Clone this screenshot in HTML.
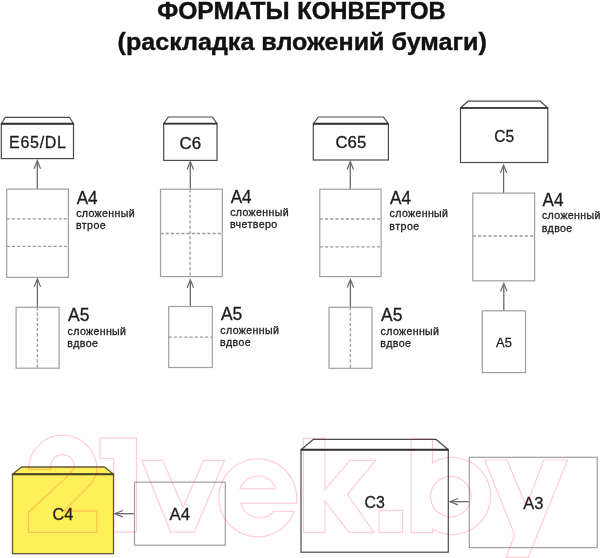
<!DOCTYPE html>
<html><head><meta charset="utf-8"><style>
html,body{margin:0;padding:0;background:#fff;}
#c{position:relative;width:600px;height:558px;overflow:hidden;background:#fff;}
svg{position:absolute;left:0;top:0;will-change:transform;}
text{font-family:"Liberation Sans",sans-serif;}
</style></head><body><div id="c">
<svg width="600" height="558" viewBox="0 0 600 558">
<text x="157.23" y="18.8" font-size="24" font-weight="bold" fill="#111" stroke="#111" stroke-width="0.4" textLength="132.45" lengthAdjust="spacingAndGlyphs">ФОРМАТЫ</text>
<text x="297.21" y="18.8" font-size="24" font-weight="bold" fill="#111" stroke="#111" stroke-width="0.4" textLength="148.58" lengthAdjust="spacingAndGlyphs">КОНВЕРТОВ</text>
<text x="117.52" y="49.7" font-size="24.5" font-weight="bold" fill="#111" stroke="#111" stroke-width="0.4" textLength="369.27" lengthAdjust="spacingAndGlyphs">(раскладка вложений бумаги)</text>
<polygon points="5.3,117.3 69.5,117.3 73.5,123.8 1.3,123.8" fill="#fff" stroke="#4a4a4a" stroke-width="1.2" stroke-linejoin="round"/>
<rect x="1.3" y="123.8" width="72.2" height="34.8" fill="#fff" stroke="#4a4a4a" stroke-width="1.2"/>
<line x1="1.3" y1="123.8" x2="73.5" y2="123.8" stroke="#333" stroke-width="1.9"/>
<text x="9.07" y="147.8" font-size="16" font-weight="normal" fill="#1c1c1c" stroke="#1c1c1c" stroke-width="0.3" textLength="56.90" lengthAdjust="spacing">E65/DL</text>
<line x1="37.3" y1="161.2" x2="37.3" y2="189.1" stroke="#6a6a6a" stroke-width="1.3"/>
<polyline points="34.099999999999994,168.7 37.3,160.7 40.5,168.7" fill="none" stroke="#6a6a6a" stroke-width="1.2"/>
<rect x="6.7" y="189.1" width="61.7" height="88.29999999999998" fill="none" stroke="#a0a0a0" stroke-width="1.2"/>
<line x1="6.7" y1="218.8" x2="68.5" y2="218.8" stroke="#9c9c9c" stroke-width="1.3" stroke-dasharray="3.2 2"/>
<line x1="6.7" y1="246.4" x2="68.5" y2="246.4" stroke="#9c9c9c" stroke-width="1.3" stroke-dasharray="3.2 2"/>
<line x1="37.4" y1="279.4" x2="37.4" y2="307.3" stroke="#6a6a6a" stroke-width="1.3"/>
<polyline points="34.199999999999996,286.9 37.4,278.9 40.6,286.9" fill="none" stroke="#6a6a6a" stroke-width="1.2"/>
<rect x="16.1" y="307.3" width="43.0" height="60.89999999999998" fill="none" stroke="#a0a0a0" stroke-width="1.2"/>
<line x1="37.4" y1="307.3" x2="37.4" y2="368.2" stroke="#9c9c9c" stroke-width="1.3" stroke-dasharray="3.2 2"/>
<text x="76.70" y="203.6" font-size="17.6" font-weight="normal" fill="#1c1c1c" stroke="#1c1c1c" stroke-width="0.3" textLength="20.92" lengthAdjust="spacingAndGlyphs">A4</text>
<text x="76.17" y="216.79999999999998" font-size="10.6" font-weight="normal" fill="#1c1c1c" stroke="#1c1c1c" stroke-width="0.3" textLength="58.45" lengthAdjust="spacing">сложенный</text>
<text x="75.90" y="229.39999999999998" font-size="10.6" font-weight="normal" fill="#1c1c1c" stroke="#1c1c1c" stroke-width="0.3" textLength="29.87" lengthAdjust="spacing">втрое</text>
<text x="68.10" y="321.4" font-size="17.6" font-weight="normal" fill="#1c1c1c" stroke="#1c1c1c" stroke-width="0.3" textLength="21.38" lengthAdjust="spacingAndGlyphs">A5</text>
<text x="67.57" y="334.6" font-size="10.6" font-weight="normal" fill="#1c1c1c" stroke="#1c1c1c" stroke-width="0.3" textLength="58.45" lengthAdjust="spacing">сложенный</text>
<text x="67.31" y="347.2" font-size="10.6" font-weight="normal" fill="#1c1c1c" stroke="#1c1c1c" stroke-width="0.3" textLength="30.50" lengthAdjust="spacing">вдвое</text>
<polygon points="168.29999999999998,117 212.4,117 217,123.6 163.7,123.6" fill="#fff" stroke="#4a4a4a" stroke-width="1.2" stroke-linejoin="round"/>
<rect x="163.7" y="123.6" width="53.30000000000001" height="36.80000000000001" fill="#fff" stroke="#4a4a4a" stroke-width="1.2"/>
<line x1="163.7" y1="123.6" x2="217" y2="123.6" stroke="#333" stroke-width="1.9"/>
<text x="179.51" y="148.5" font-size="16" font-weight="normal" fill="#1c1c1c" stroke="#1c1c1c" stroke-width="0.3" textLength="21.53" lengthAdjust="spacingAndGlyphs">C6</text>
<line x1="190.3" y1="162.0" x2="190.3" y2="189.2" stroke="#6a6a6a" stroke-width="1.3"/>
<polyline points="187.10000000000002,169.5 190.3,161.5 193.5,169.5" fill="none" stroke="#6a6a6a" stroke-width="1.2"/>
<rect x="160.5" y="189.2" width="61.80000000000001" height="87.40000000000003" fill="none" stroke="#a0a0a0" stroke-width="1.2"/>
<line x1="190.1" y1="189.2" x2="190.1" y2="276.6" stroke="#9c9c9c" stroke-width="1.3" stroke-dasharray="3.2 2"/>
<line x1="160.5" y1="233.5" x2="222.3" y2="233.5" stroke="#9c9c9c" stroke-width="1.3" stroke-dasharray="3.2 2"/>
<line x1="190.35" y1="280.3" x2="190.35" y2="306.5" stroke="#6a6a6a" stroke-width="1.3"/>
<polyline points="187.15,287.8 190.35,279.8 193.54999999999998,287.8" fill="none" stroke="#6a6a6a" stroke-width="1.2"/>
<rect x="168.7" y="306.5" width="43.60000000000002" height="61.0" fill="none" stroke="#a0a0a0" stroke-width="1.2"/>
<line x1="168.7" y1="337.2" x2="212.3" y2="337.2" stroke="#9c9c9c" stroke-width="1.3" stroke-dasharray="3.2 2"/>
<text x="230.70" y="202.5" font-size="17.6" font-weight="normal" fill="#1c1c1c" stroke="#1c1c1c" stroke-width="0.3" textLength="20.92" lengthAdjust="spacingAndGlyphs">A4</text>
<text x="230.17" y="215.7" font-size="10.6" font-weight="normal" fill="#1c1c1c" stroke="#1c1c1c" stroke-width="0.3" textLength="58.45" lengthAdjust="spacing">сложенный</text>
<text x="229.90" y="228.29999999999998" font-size="10.6" font-weight="normal" fill="#1c1c1c" stroke="#1c1c1c" stroke-width="0.3" textLength="47.34" lengthAdjust="spacing">вчетверо</text>
<text x="220.90" y="320.29999999999995" font-size="17.6" font-weight="normal" fill="#1c1c1c" stroke="#1c1c1c" stroke-width="0.3" textLength="21.38" lengthAdjust="spacingAndGlyphs">A5</text>
<text x="220.37" y="333.5" font-size="10.6" font-weight="normal" fill="#1c1c1c" stroke="#1c1c1c" stroke-width="0.3" textLength="58.45" lengthAdjust="spacing">сложенный</text>
<text x="220.11" y="346.09999999999997" font-size="10.6" font-weight="normal" fill="#1c1c1c" stroke="#1c1c1c" stroke-width="0.3" textLength="30.50" lengthAdjust="spacing">вдвое</text>
<polygon points="318.3,117 383.4,117 388.4,123.8 313.3,123.8" fill="#fff" stroke="#4a4a4a" stroke-width="1.2" stroke-linejoin="round"/>
<rect x="313.3" y="123.8" width="75.09999999999997" height="36.2" fill="#fff" stroke="#4a4a4a" stroke-width="1.2"/>
<line x1="313.3" y1="123.8" x2="388.4" y2="123.8" stroke="#333" stroke-width="1.9"/>
<text x="335.52" y="148.2" font-size="16" font-weight="normal" fill="#1c1c1c" stroke="#1c1c1c" stroke-width="0.3" textLength="30.72" lengthAdjust="spacingAndGlyphs">C65</text>
<line x1="350.3" y1="162.0" x2="350.3" y2="189.2" stroke="#6a6a6a" stroke-width="1.3"/>
<polyline points="347.1,169.5 350.3,161.5 353.5,169.5" fill="none" stroke="#6a6a6a" stroke-width="1.2"/>
<rect x="319.8" y="189.2" width="61.30000000000001" height="87.40000000000003" fill="none" stroke="#a0a0a0" stroke-width="1.2"/>
<line x1="319.8" y1="219" x2="381.1" y2="219" stroke="#9c9c9c" stroke-width="1.3" stroke-dasharray="3.2 2"/>
<line x1="319.8" y1="246.8" x2="381.1" y2="246.8" stroke="#9c9c9c" stroke-width="1.3" stroke-dasharray="3.2 2"/>
<line x1="350.4" y1="280.0" x2="350.4" y2="307.3" stroke="#6a6a6a" stroke-width="1.3"/>
<polyline points="347.2,287.5 350.4,279.5 353.59999999999997,287.5" fill="none" stroke="#6a6a6a" stroke-width="1.2"/>
<rect x="329" y="307.3" width="43" height="61.0" fill="none" stroke="#a0a0a0" stroke-width="1.2"/>
<line x1="350.4" y1="307.3" x2="350.4" y2="368.3" stroke="#9c9c9c" stroke-width="1.3" stroke-dasharray="3.2 2"/>
<text x="390.10" y="203.8" font-size="17.6" font-weight="normal" fill="#1c1c1c" stroke="#1c1c1c" stroke-width="0.3" textLength="20.92" lengthAdjust="spacingAndGlyphs">A4</text>
<text x="389.57" y="217.0" font-size="10.6" font-weight="normal" fill="#1c1c1c" stroke="#1c1c1c" stroke-width="0.3" textLength="58.45" lengthAdjust="spacing">сложенный</text>
<text x="389.30" y="229.6" font-size="10.6" font-weight="normal" fill="#1c1c1c" stroke="#1c1c1c" stroke-width="0.3" textLength="29.87" lengthAdjust="spacing">втрое</text>
<text x="381.10" y="321.4" font-size="17.6" font-weight="normal" fill="#1c1c1c" stroke="#1c1c1c" stroke-width="0.3" textLength="21.38" lengthAdjust="spacingAndGlyphs">A5</text>
<text x="380.57" y="334.6" font-size="10.6" font-weight="normal" fill="#1c1c1c" stroke="#1c1c1c" stroke-width="0.3" textLength="58.45" lengthAdjust="spacing">сложенный</text>
<text x="380.31" y="347.2" font-size="10.6" font-weight="normal" fill="#1c1c1c" stroke="#1c1c1c" stroke-width="0.3" textLength="30.50" lengthAdjust="spacing">вдвое</text>
<polygon points="468.0,101.2 540.3,101.2 547.8,108 460.5,108" fill="#fff" stroke="#4a4a4a" stroke-width="1.2" stroke-linejoin="round"/>
<rect x="460.5" y="108" width="87.29999999999995" height="54.5" fill="#fff" stroke="#4a4a4a" stroke-width="1.2"/>
<line x1="460.5" y1="108" x2="547.8" y2="108" stroke="#333" stroke-width="1.7"/>
<text x="494.29" y="141.9" font-size="16.5" font-weight="normal" fill="#1c1c1c" stroke="#1c1c1c" stroke-width="0.3" textLength="19.87" lengthAdjust="spacingAndGlyphs">C5</text>
<line x1="503.6" y1="165.6" x2="503.6" y2="193.1" stroke="#6a6a6a" stroke-width="1.3"/>
<polyline points="500.40000000000003,173.1 503.6,165.1 506.8,173.1" fill="none" stroke="#6a6a6a" stroke-width="1.2"/>
<rect x="472.8" y="193.1" width="61.80000000000001" height="87.70000000000002" fill="none" stroke="#a0a0a0" stroke-width="1.2"/>
<line x1="472.8" y1="236" x2="534.6" y2="236" stroke="#9c9c9c" stroke-width="1.3" stroke-dasharray="3.2 2"/>
<line x1="503.8" y1="283.9" x2="503.8" y2="310.8" stroke="#6a6a6a" stroke-width="1.3"/>
<polyline points="500.6,291.4 503.8,283.4 507.0,291.4" fill="none" stroke="#6a6a6a" stroke-width="1.2"/>
<rect x="482.3" y="310.8" width="43.19999999999999" height="61.80000000000001" fill="none" stroke="#a0a0a0" stroke-width="1.2"/>
<text x="496.10" y="346.9" font-size="12.5" font-weight="normal" fill="#1c1c1c" stroke="#1c1c1c" stroke-width="0.3" textLength="15.76" lengthAdjust="spacingAndGlyphs">A5</text>
<text x="542.50" y="206.1" font-size="17.6" font-weight="normal" fill="#1c1c1c" stroke="#1c1c1c" stroke-width="0.3" textLength="20.92" lengthAdjust="spacingAndGlyphs">A4</text>
<text x="541.97" y="219.29999999999998" font-size="10.6" font-weight="normal" fill="#1c1c1c" stroke="#1c1c1c" stroke-width="0.3" textLength="58.45" lengthAdjust="spacing">сложенный</text>
<text x="541.71" y="231.89999999999998" font-size="10.6" font-weight="normal" fill="#1c1c1c" stroke="#1c1c1c" stroke-width="0.3" textLength="30.50" lengthAdjust="spacing">вдвое</text>
<polygon points="21.5,467 104.5,467 113.5,474.3 12.5,474.3" fill="#fff05a" stroke="#5f5a38" stroke-width="1.3" stroke-linejoin="round"/>
<rect x="12.5" y="474.3" width="101.0" height="79.40000000000003" fill="#fff05a" stroke="#5f5a38" stroke-width="1.3"/>
<line x1="12.5" y1="474.3" x2="113.5" y2="474.3" stroke="#48442b" stroke-width="2.0"/>
<text x="52.48" y="520.3" font-size="17" font-weight="normal" fill="#1c1c1c" stroke="#1c1c1c" stroke-width="0.3" textLength="20.78" lengthAdjust="spacingAndGlyphs">C4</text>
<line x1="115.3" y1="513.7" x2="134.5" y2="513.7" stroke="#6a6a6a" stroke-width="1.3"/>
<polyline points="122.8,510.50000000000006 114.8,513.7 122.8,516.9000000000001" fill="none" stroke="#6a6a6a" stroke-width="1.2"/>
<rect x="134.5" y="482.1" width="90.80000000000001" height="63.10000000000002" fill="none" stroke="#a0a0a0" stroke-width="1.2"/>
<text x="169.50" y="520.4" font-size="17" font-weight="normal" fill="#1c1c1c" stroke="#1c1c1c" stroke-width="0.3" textLength="20.54" lengthAdjust="spacingAndGlyphs">A4</text>
<polygon points="313.5,439.3 435.8,439.3 448.3,449.7 301,449.7" fill="#fff" stroke="#4a4a4a" stroke-width="1.2" stroke-linejoin="round"/>
<rect x="301" y="449.7" width="147.3" height="102.50000000000006" fill="#fff" stroke="#4a4a4a" stroke-width="1.2"/>
<line x1="301" y1="449.7" x2="448.3" y2="449.7" stroke="#333" stroke-width="1.9"/>
<text x="364.50" y="507.9" font-size="17" font-weight="normal" fill="#1c1c1c" stroke="#1c1c1c" stroke-width="0.3" textLength="20.29" lengthAdjust="spacingAndGlyphs">C3</text>
<line x1="450.5" y1="501.7" x2="469.3" y2="501.7" stroke="#6a6a6a" stroke-width="1.3"/>
<polyline points="458,498.5 450,501.7 458,504.9" fill="none" stroke="#6a6a6a" stroke-width="1.2"/>
<rect x="469.3" y="457.3" width="127.90000000000003" height="90.30000000000001" fill="none" stroke="#a0a0a0" stroke-width="1.2"/>
<text x="523.20" y="508.7" font-size="17" font-weight="normal" fill="#1c1c1c" stroke="#1c1c1c" stroke-width="0.3" textLength="20.17" lengthAdjust="spacingAndGlyphs">A3</text>
<path d="M28.5 469.3 A34.2 34.2 0 0 1 96.9 469.3 C96.9 477, 92 483.5, 85.1 490.1 L63.8 511.2 L96.8 511.2 L96.8 532.4 L28.5 532.4 L28.5 512.3 L65 478.6 C70 473.5, 74.3 470, 74.3 466.5 A11.8 11.8 0 0 0 50.7 466.5 L50.7 469.3 Z" fill="none" stroke="rgba(255,0,55,0.2)" stroke-width="1.2" stroke-linejoin="miter"/>
<path d="M100.1 438.2 L136.5 438.2 L136.5 532.2 L113.7 532.2 L113.7 458.5 L100.1 458.5 Z" fill="none" stroke="rgba(255,0,55,0.2)" stroke-width="1.2" stroke-linejoin="miter"/>
<path d="M141.7 460.3 L162.7 460.3 L183.1 507.5 L203.5 460.3 L224.5 460.3 L194.2 532.2 L170.8 532.2 Z" fill="none" stroke="rgba(255,0,55,0.2)" stroke-width="1.2" stroke-linejoin="miter"/>
<path d="M296.4 503.2 L240.9 503.2 A19 19 0 0 0 273.6 511.5 L294.3 511.5 A39 39 0 1 1 296.4 503.2 Z" fill="none" stroke="rgba(255,0,55,0.2)" stroke-width="1.2" stroke-linejoin="miter"/>
<path d="M240 488.9 A19 19 0 0 1 276 488.9 Z" fill="none" stroke="rgba(255,0,55,0.2)" stroke-width="1.2" stroke-linejoin="miter"/>
<path d="M303.4 438.4 L325 438.4 L325 489.6 L350 460.4 L375.4 460.4 L347.4 494.4 L374 532.4 L349 532.4 L325 501 L325 532.4 L303.4 532.4 Z" fill="none" stroke="rgba(255,0,55,0.2)" stroke-width="1.2" stroke-linejoin="miter"/>
<path d="M379 510.4 L402.6 510.4 L402.6 532.4 L379 532.4 Z" fill="none" stroke="rgba(255,0,55,0.2)" stroke-width="1.2" stroke-linejoin="miter"/>
<path d="M411.2 438.9 L432.5 438.9 L432.5 462.9 A38.5 38.5 0 1 1 432.5 529.1 L432.5 532.6 L411.2 532.6 Z" fill="none" stroke="rgba(255,0,55,0.2)" stroke-width="1.2" stroke-linejoin="miter"/>
<path d="M430.6 496.6 A20.2 20.2 0 1 1 471 496.6 A20.2 20.2 0 1 1 430.6 496.6 Z" fill="none" stroke="rgba(255,0,55,0.2)" stroke-width="1.2" stroke-linejoin="miter"/>
<path d="M484.7 460 L506.9 460 L526.3 505.8 L543.7 460 L567.5 460 L528.2 557.4 L506 557.4 L514.7 535.1 Z" fill="none" stroke="rgba(255,0,55,0.2)" stroke-width="1.2" stroke-linejoin="miter"/>
</svg></div></body></html>
